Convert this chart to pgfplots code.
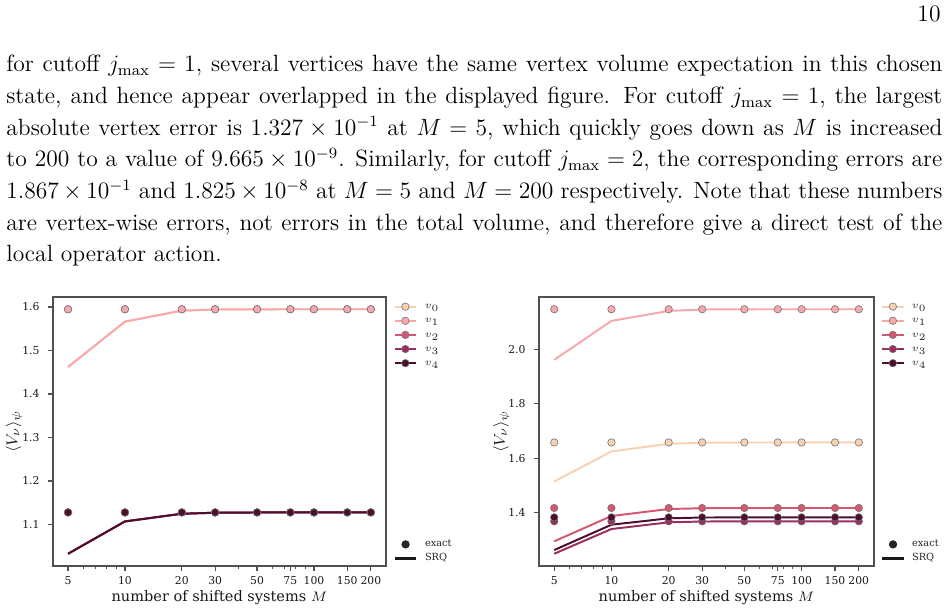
\documentclass[border=0pt]{standalone}
\usepackage{fontspec}
\usepackage{pgfplots}
\usepackage{pgfplotstable}
\pgfplotsset{compat=1.18}
\newfontfamily\dvs{DejaVu Serif}
\definecolor{c0}{RGB}{246,210,178}
\definecolor{c1}{RGB}{248,168,172}
\definecolor{c2}{RGB}{214,88,112}
\definecolor{c3}{RGB}{155,45,95}
\definecolor{c4}{RGB}{75,14,45}
\definecolor{spine}{RGB}{80,80,80}

% jmax = 1 : exact (e) and SRQ (s) vertex volumes
\pgfplotstableread{
M   e0     e1     e2     e3     e4     s0     s1     s2     s3     s4
5   1.5947 1.5947 1.1276 1.1276 1.1276 1.4620 1.4620 1.0326 1.0326 1.0326
10  1.5947 1.5947 1.1276 1.1276 1.1276 1.5662 1.5662 1.1069 1.1069 1.1069
20  1.5947 1.5947 1.1276 1.1276 1.1276 1.5915 1.5915 1.1246 1.1246 1.1246
30  1.5947 1.5947 1.1276 1.1276 1.1276 1.5941 1.5941 1.1269 1.1269 1.1269
50  1.5947 1.5947 1.1276 1.1276 1.1276 1.5946 1.5946 1.1275 1.1275 1.1275
75  1.5947 1.5947 1.1276 1.1276 1.1276 1.5947 1.5947 1.1276 1.1276 1.1276
100 1.5947 1.5947 1.1276 1.1276 1.1276 1.5947 1.5947 1.1276 1.1276 1.1276
150 1.5947 1.5947 1.1276 1.1276 1.1276 1.5947 1.5947 1.1276 1.1276 1.1276
200 1.5947 1.5947 1.1276 1.1276 1.1276 1.5947 1.5947 1.1276 1.1276 1.1276
}\tabA
% jmax = 2
\pgfplotstableread{
M   e0     e1     e2     e3     e4     s0     s1     s2     s3     s4
5   1.6576 2.1490 1.4159 1.3668 1.3815 1.5137 1.9623 1.2930 1.2472 1.2609
10  1.6576 2.1490 1.4159 1.3668 1.3815 1.6244 2.1059 1.3863 1.3384 1.3543
20  1.6576 2.1490 1.4159 1.3668 1.3815 1.6528 2.1428 1.4122 1.3631 1.3779
30  1.6576 2.1490 1.4159 1.3668 1.3815 1.6565 2.1480 1.4150 1.3661 1.3808
50  1.6576 2.1490 1.4159 1.3668 1.3815 1.6575 2.1489 1.4158 1.3667 1.3814
75  1.6576 2.1490 1.4159 1.3668 1.3815 1.6576 2.1490 1.4159 1.3668 1.3815
100 1.6576 2.1490 1.4159 1.3668 1.3815 1.6576 2.1490 1.4159 1.3668 1.3815
150 1.6576 2.1490 1.4159 1.3668 1.3815 1.6576 2.1490 1.4159 1.3668 1.3815
200 1.6576 2.1490 1.4159 1.3668 1.3815 1.6576 2.1490 1.4159 1.3668 1.3815
}\tabB

\begin{document}
\begin{tikzpicture}
\path[use as bounding box] (0pt,0pt) rectangle (482.9pt,-310.7pt);

\node[anchor=base east, inner sep=0pt, font=\fontsize{12}{14.5}\selectfont] at (479.3pt,-11.2pt) {10};

\node[anchor=north west, inner sep=0pt, text width=476.8pt, align=justify,
      font=\fontsize{12}{16.13}\selectfont] at (3.06pt,-28.0pt) {\noindent\hbadness=10000
for cutoff $j_{\max}=1$, several vertices have the same vertex volume expectation in this chosen\linebreak
state, and hence appear overlapped in the displayed figure. For cutoff $j_{\max}=1$, the largest\linebreak
absolute vertex error is $1.327\times10^{-1}$ at $M=5$, which quickly goes down as $M$ is increased\linebreak
to 200 to a value of $9.665\times10^{-9}$. Similarly, for cutoff $j_{\max}=2$, the corresponding errors are\linebreak
$1.867\times10^{-1}$ and $1.825\times10^{-8}$ at $M=5$ and $M=200$ respectively. Note that these numbers\linebreak
are vertex-wise errors, not errors in the total volume, and therefore give a direct test of the\linebreak
local operator action.};

% ---------------- left: jmax = 1 ----------------
\begin{axis}[width=169.6pt, at={(27.0pt,-288.3pt)}, anchor=south west,
    scale only axis, height=137pt,
    xmode=log, xmin=4.163, xmax=240.4,
    ymin=1.0045, ymax=1.6228,
    xtick={5,10,20,30,50,75,100,150,200},
    xticklabels={\mbox{5},\mbox{10},\mbox{20},\mbox{30},\mbox{50},\mbox{75},\mbox{100},\mbox{150},\mbox{200}},
    minor xtick={6,7,8,9,40,60,70,80,90},
    ytick={1.1,1.2,1.3,1.4,1.5,1.6},
    yticklabels={\mbox{1.1},\mbox{1.2},\mbox{1.3},\mbox{1.4},\mbox{1.5},\mbox{1.6}},
    tick align=outside, xtick pos=bottom, ytick pos=left,
    major tick length=2.4pt, minor tick length=1.3pt,
    axis line style={spine, line width=0.75pt},
    major tick style={spine, line width=0.6pt},
    minor tick style={spine, line width=0.5pt},
    tick label style={font=\dvs\fontsize{5.5}{6}\selectfont, text=black!90, inner sep=0pt},
    xticklabel style={anchor=north, yshift=-2.8pt},
    yticklabel style={anchor=east, xshift=-4.3pt},
    xlabel={\dvs number of shifted systems $M$},
    ylabel={$\langle V_\nu\rangle_\psi$},
    label style={font=\fontsize{7.4}{8.5}\selectfont, text=black!90},
    ylabel style={font=\fontsize{8.2}{9}\selectfont, at={(axis description cs:-0.117,0.5)}, anchor=center},
    xlabel style={at={(axis description cs:0.5,-0.116)}, anchor=center},
    legend cell align=left,
    legend style={at={(1,1)}, anchor=north west, xshift=3.9pt, yshift=-2.4pt,
      draw=none, fill=none, inner sep=0pt, outer sep=0pt,
      font=\fontsize{5}{6}\selectfont, text=black!85, row sep=2.2pt,
      nodes={inner sep=0pt, text height=3.6pt, text depth=1.4pt},
      /tikz/every odd column/.style={column sep=3.8pt}},
    legend image code/.code={\path (0pt,0pt) (11pt,0pt);
      \draw[mark repeat=2,mark phase=2] plot coordinates {(0pt,0pt) (5.5pt,0pt) (11pt,0pt)};}]
\addplot[only marks, mark=*, mark size=1.9pt, forget plot, mark options={fill=c0, draw=black!55, line width=0.3pt}] table[x=M,y=e0]{\tabA};
\addplot[only marks, mark=*, mark size=1.9pt, forget plot, mark options={fill=c1, draw=black!55, line width=0.3pt}] table[x=M,y=e1]{\tabA};
\addplot[only marks, mark=*, mark size=1.9pt, forget plot, mark options={fill=c2, draw=black!55, line width=0.3pt}] table[x=M,y=e2]{\tabA};
\addplot[only marks, mark=*, mark size=1.9pt, forget plot, mark options={fill=c3, draw=black!55, line width=0.3pt}] table[x=M,y=e3]{\tabA};
\addplot[only marks, mark=*, mark size=1.9pt, forget plot, mark options={fill=c4, draw=black!55, line width=0.3pt}] table[x=M,y=e4]{\tabA};
\addplot[c0, line width=1pt, no marks, forget plot] table[x=M,y=s0]{\tabA};
\addplot[c1, line width=1pt, no marks, forget plot] table[x=M,y=s1]{\tabA};
\addplot[c2, line width=1pt, no marks, forget plot] table[x=M,y=s2]{\tabA};
\addplot[c3, line width=1pt, no marks, forget plot] table[x=M,y=s3]{\tabA};
\addplot[c4, line width=1pt, no marks, forget plot] table[x=M,y=s4]{\tabA};
\addlegendimage{c0, line width=1pt, mark=*, mark size=1.9pt, mark options={fill=c0, draw=black!55, line width=0.3pt}}\addlegendentry{$v_0$}
\addlegendimage{c1, line width=1pt, mark=*, mark size=1.9pt, mark options={fill=c1, draw=black!55, line width=0.3pt}}\addlegendentry{$v_1$}
\addlegendimage{c2, line width=1pt, mark=*, mark size=1.9pt, mark options={fill=c2, draw=black!55, line width=0.3pt}}\addlegendentry{$v_2$}
\addlegendimage{c3, line width=1pt, mark=*, mark size=1.9pt, mark options={fill=c3, draw=black!55, line width=0.3pt}}\addlegendentry{$v_3$}
\addlegendimage{c4, line width=1pt, mark=*, mark size=1.9pt, mark options={fill=c4, draw=black!55, line width=0.3pt}}\addlegendentry{$v_4$}
\end{axis}
\begin{axis}[width=169.6pt, at={(27.0pt,-288.3pt)}, anchor=south west,
    scale only axis, height=137pt, hide axis,
    xmin=0, xmax=1, ymin=0, ymax=1,
    legend cell align=left,
    legend style={at={(1,0)}, anchor=south west, xshift=3.9pt, yshift=1.3pt,
      draw=none, fill=none, inner sep=0pt, outer sep=0pt,
      font=\dvs\fontsize{5}{6}\selectfont, text=black!85, row sep=2.2pt,
      nodes={inner sep=0pt, text height=3.6pt, text depth=1.4pt},
      /tikz/every odd column/.style={column sep=3.8pt}}]
\addplot[draw=none, no marks, forget plot] coordinates {(0.5,0.5)};
\addlegendimage{black!85, mark=*, mark size=1.9pt,
  legend image code/.code={\path (0pt,0pt) (11pt,0pt); \draw plot coordinates {(5.5pt,0pt)};}}
\addlegendentry{exact}
\addlegendimage{black!90, line width=1.2pt,
  legend image code/.code={\path (0pt,0pt) (11pt,0pt); \draw[line width=1.2pt] plot coordinates {(0pt,0pt) (11pt,0pt)};}}
\addlegendentry{SRQ}
\end{axis}

% ---------------- right: jmax = 2 ----------------
\begin{axis}[width=170.6pt, at={(274.6pt,-288.3pt)}, anchor=south west,
    scale only axis, height=137pt,
    xmode=log, xmin=4.163, xmax=240.4,
    ymin=1.2021, ymax=2.1941,
    xtick={5,10,20,30,50,75,100,150,200},
    xticklabels={\mbox{5},\mbox{10},\mbox{20},\mbox{30},\mbox{50},\mbox{75},\mbox{100},\mbox{150},\mbox{200}},
    minor xtick={6,7,8,9,40,60,70,80,90},
    ytick={1.4,1.6,1.8,2.0},
    yticklabels={\mbox{1.4},\mbox{1.6},\mbox{1.8},\mbox{2.0}},
    tick align=outside, xtick pos=bottom, ytick pos=left,
    major tick length=2.4pt, minor tick length=1.3pt,
    axis line style={spine, line width=0.75pt},
    major tick style={spine, line width=0.6pt},
    minor tick style={spine, line width=0.5pt},
    tick label style={font=\dvs\fontsize{5.5}{6}\selectfont, text=black!90, inner sep=0pt},
    xticklabel style={anchor=north, yshift=-2.8pt},
    yticklabel style={anchor=east, xshift=-4.3pt},
    xlabel={\dvs number of shifted systems $M$},
    ylabel={$\langle V_\nu\rangle_\psi$},
    label style={font=\fontsize{7.4}{8.5}\selectfont, text=black!90},
    ylabel style={font=\fontsize{8.2}{9}\selectfont, at={(axis description cs:-0.112,0.5)}, anchor=center},
    xlabel style={at={(axis description cs:0.5,-0.116)}, anchor=center},
    legend cell align=left,
    legend style={at={(1,1)}, anchor=north west, xshift=3.6pt, yshift=-2.4pt,
      draw=none, fill=none, inner sep=0pt, outer sep=0pt,
      font=\fontsize{5}{6}\selectfont, text=black!85, row sep=2.2pt,
      nodes={inner sep=0pt, text height=3.6pt, text depth=1.4pt},
      /tikz/every odd column/.style={column sep=3.6pt}},
    legend image code/.code={\path (0pt,0pt) (11pt,0pt);
      \draw[mark repeat=2,mark phase=2] plot coordinates {(0pt,0pt) (5.5pt,0pt) (11pt,0pt)};}]
\addplot[only marks, mark=*, mark size=1.9pt, forget plot, mark options={fill=c0, draw=black!55, line width=0.3pt}] table[x=M,y=e0]{\tabB};
\addplot[only marks, mark=*, mark size=1.9pt, forget plot, mark options={fill=c1, draw=black!55, line width=0.3pt}] table[x=M,y=e1]{\tabB};
\addplot[only marks, mark=*, mark size=1.9pt, forget plot, mark options={fill=c2, draw=black!55, line width=0.3pt}] table[x=M,y=e2]{\tabB};
\addplot[only marks, mark=*, mark size=1.9pt, forget plot, mark options={fill=c3, draw=black!55, line width=0.3pt}] table[x=M,y=e3]{\tabB};
\addplot[only marks, mark=*, mark size=1.9pt, forget plot, mark options={fill=c4, draw=black!55, line width=0.3pt}] table[x=M,y=e4]{\tabB};
\addplot[c0, line width=1pt, no marks, forget plot] table[x=M,y=s0]{\tabB};
\addplot[c1, line width=1pt, no marks, forget plot] table[x=M,y=s1]{\tabB};
\addplot[c2, line width=1pt, no marks, forget plot] table[x=M,y=s2]{\tabB};
\addplot[c3, line width=1pt, no marks, forget plot] table[x=M,y=s3]{\tabB};
\addplot[c4, line width=1pt, no marks, forget plot] table[x=M,y=s4]{\tabB};
\addlegendimage{c0, line width=1pt, mark=*, mark size=1.9pt, mark options={fill=c0, draw=black!55, line width=0.3pt}}\addlegendentry{$v_0$}
\addlegendimage{c1, line width=1pt, mark=*, mark size=1.9pt, mark options={fill=c1, draw=black!55, line width=0.3pt}}\addlegendentry{$v_1$}
\addlegendimage{c2, line width=1pt, mark=*, mark size=1.9pt, mark options={fill=c2, draw=black!55, line width=0.3pt}}\addlegendentry{$v_2$}
\addlegendimage{c3, line width=1pt, mark=*, mark size=1.9pt, mark options={fill=c3, draw=black!55, line width=0.3pt}}\addlegendentry{$v_3$}
\addlegendimage{c4, line width=1pt, mark=*, mark size=1.9pt, mark options={fill=c4, draw=black!55, line width=0.3pt}}\addlegendentry{$v_4$}
\end{axis}
\begin{axis}[width=170.6pt, at={(274.6pt,-288.3pt)}, anchor=south west,
    scale only axis, height=137pt, hide axis,
    xmin=0, xmax=1, ymin=0, ymax=1,
    legend cell align=left,
    legend style={at={(1,0)}, anchor=south west, xshift=3.6pt, yshift=1.3pt,
      draw=none, fill=none, inner sep=0pt, outer sep=0pt,
      font=\dvs\fontsize{5}{6}\selectfont, text=black!85, row sep=2.2pt,
      nodes={inner sep=0pt, text height=3.6pt, text depth=1.4pt},
      /tikz/every odd column/.style={column sep=3.6pt}}]
\addplot[draw=none, no marks, forget plot] coordinates {(0.5,0.5)};
\addlegendimage{black!85, mark=*, mark size=1.9pt,
  legend image code/.code={\path (0pt,0pt) (11pt,0pt); \draw plot coordinates {(5.5pt,0pt)};}}
\addlegendentry{exact}
\addlegendimage{black!90, line width=1.2pt,
  legend image code/.code={\path (0pt,0pt) (11pt,0pt); \draw[line width=1.2pt] plot coordinates {(0pt,0pt) (11pt,0pt)};}}
\addlegendentry{SRQ}
\end{axis}
\end{tikzpicture}
\end{document}
